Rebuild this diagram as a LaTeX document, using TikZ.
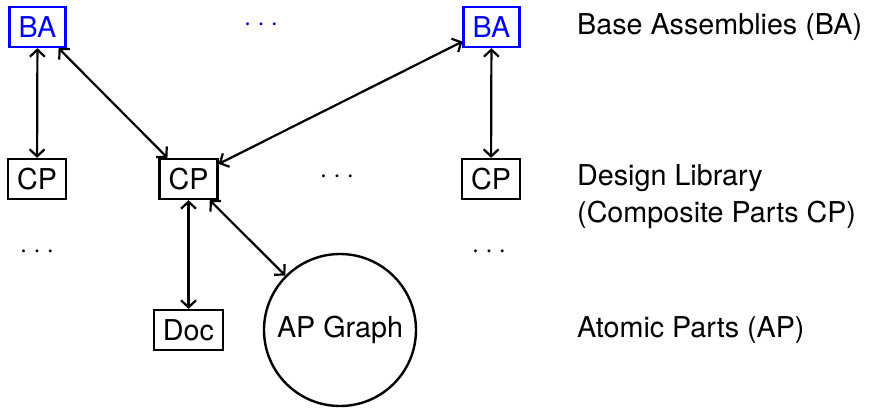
\documentclass[tikz,border=0pt]{standalone}
\usepackage{fontspec}
\setmainfont{TeX Gyre Heros}
\usetikzlibrary{arrows.meta}
\newcommand{\mydots}{·\kern0.19em·\kern0.19em·}
\begin{document}
\begin{tikzpicture}[x=1pt,y=-1pt,
  every node/.style={font=\fontsize{28.7}{37}\selectfont},
  box/.style={draw, line width=2.4pt, inner xsep=9pt, inner ysep=0pt, minimum height=40pt},
  babox/.style={box, draw=blue, text=blue},
  link/.style={line width=2.2pt, {Straight Barb[length=7pt,width=15pt]}-{Straight Barb[length=7pt,width=15pt]}},
  label/.style={anchor=west, inner sep=0pt, align=left},
]
\useasboundingbox (0,0) rectangle (869,407);

% base assemblies
\node[babox] (ba1) at (37.5,27) {BA};
\node[babox] (ba2) at (491.5,27) {BA};
\node[text=blue] (badots) at (261,27) {\mydots};

% composite parts
\node[box] (cp1) at (37,179) {CP};
\node[box] (cp2) at (188.5,179) {CP};
\node[box] (cp3) at (491,179) {CP};
\node (cpdots) at (337,179) {\mydots};
\node (ldots) at (37,254) {\mydots};
\node (rdots) at (489,254) {\mydots};

% atomic parts
\node[box] (doc) at (188.5,330) {Doc};
\node[draw, circle, line width=2.4pt, minimum size=152pt, inner sep=0pt] (ap) at (340,330) {AP Graph};

% level labels
\node[label] (lba) at (577,27) {Base Assemblies (BA)};
\node[label] (ldl) at (577,197) {Design Library\\(Composite Parts CP)};
\node[label] (lap) at (577,330) {Atomic Parts (AP)};

% links
\draw[link] (ba1) -- (cp1);
\draw[link] (ba1) -- (cp2);
\draw[link] (ba2) -- (cp2);
\draw[link] (ba2) -- (cp3);
\draw[link] (cp2) -- (doc);
\draw[link] (cp2) -- (ap);
\end{tikzpicture}
\end{document}
